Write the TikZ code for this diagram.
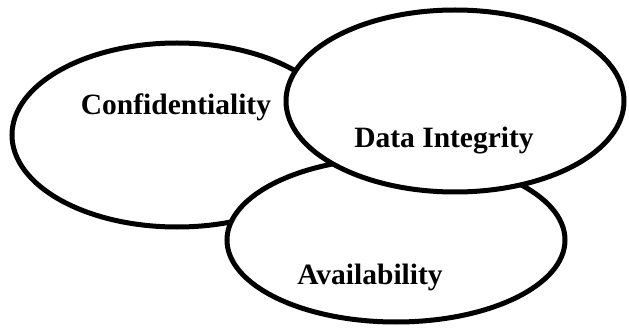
\documentclass[tikz,border=0pt]{standalone}
\usepackage{fontspec}
\setmainfont{Liberation Serif}
\begin{document}
\begin{tikzpicture}[x=1pt,y=-1pt,
  ring/.style={draw=black,line width=5pt,fill=white},
  lbl/.style={font=\fontsize{29.5}{31}\selectfont\bfseries,anchor=base,inner sep=0pt}]
\useasboundingbox[fill=white] (0,0) rectangle (629,331);
% back ellipse
\draw[ring] (177,135) ellipse [x radius=165, y radius=92];
\node[lbl] (conf) at (176,115) {Confidentiality};
% middle ellipse
\draw[ring] (396,240) ellipse [x radius=169, y radius=82];
\node[lbl] (avail) at (370,284) {Availability};
% front ellipse
\draw[ring] (455,101) ellipse [x radius=169, y radius=91];
\node[lbl] (integ) at (444,148) {Data Integrity};
\end{tikzpicture}
\end{document}
